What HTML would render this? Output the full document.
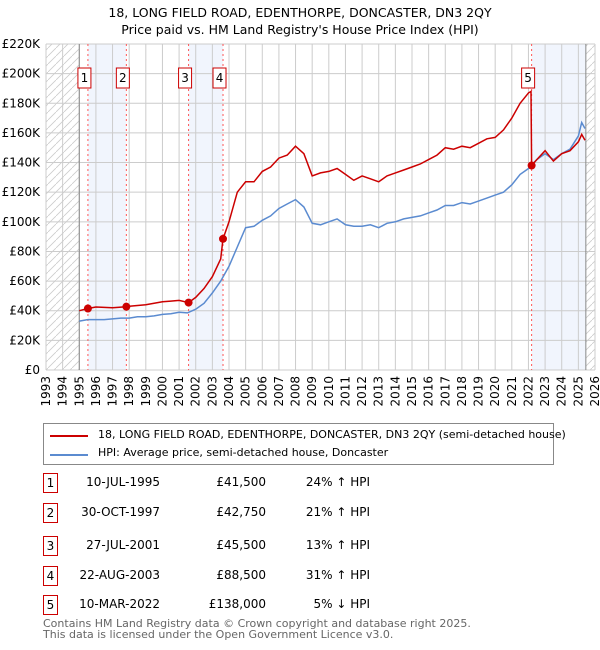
<!DOCTYPE html>
<html><head><meta charset="utf-8"><style>
body{margin:0;background:#fff;font-family:"DejaVu Sans","Liberation Sans",sans-serif;}
#wrap{position:relative;width:600px;height:650px;overflow:hidden;}
.t{position:absolute;font-size:12px;color:#000;white-space:nowrap;}
.box{position:absolute;border:1px solid #c00;width:13px;height:18px;font-size:12px;text-align:center;line-height:18px;}
</style></head><body>
<div id="wrap">
<svg id="chart" width="600" height="420" style="position:absolute;left:0;top:0"></svg>
<div class="t" style="left:0;width:600px;text-align:center;top:4px;line-height:17px;font-size:12.5px">18, LONG FIELD ROAD, EDENTHORPE, DONCASTER, DN3 2QY<br>Price paid vs. HM Land Registry's House Price Index (HPI)</div>
<div style="position:absolute;left:43px;top:423px;width:509px;height:40px;border:1px solid #888;">
 <div><div style="position:absolute;left:6px;top:11px;width:38px;height:2px;background:#c00"></div><div class="t" style="left:54px;top:4px;font-size:11px">18, LONG FIELD ROAD, EDENTHORPE, DONCASTER, DN3 2QY (semi-detached house)</div></div>
 <div><div style="position:absolute;left:6px;top:30px;width:38px;height:2px;background:#5b8bd0"></div><div class="t" style="left:54px;top:22px;font-size:11px">HPI: Average price, semi-detached house, Doncaster</div></div>
</div>
<div id="tbl"></div>
<div class="t" style="left:43px;top:618px;color:#666;font-size:11px;line-height:11px">Contains HM Land Registry data © Crown copyright and database right 2025.<br>This data is licensed under the Open Government Licence v3.0.</div>
</div>
<script>
const hpiYears=[1995,1995.5,1996,1996.5,1997,1997.5,1998,1998.5,1999,1999.5,2000,2000.5,2001,2001.5,2002,2002.5,2003,2003.5,2004,2004.5,2005,2005.5,2006,2006.5,2007,2007.5,2008,2008.5,2009,2009.5,2010,2010.5,2011,2011.5,2012,2012.5,2013,2013.5,2014,2014.5,2015,2015.5,2016,2016.5,2017,2017.5,2018,2018.5,2019,2019.5,2020,2020.5,2021,2021.5,2022,2022.5,2023,2023.5,2024,2024.5,2025,2025.2,2025.4];
const hpiValues=[33,34,34,34,34.5,35,35,36,36,36.5,37.5,38,39,38.5,41,45,52,60,70,83,96,97,101,104,109,112,115,110,99,98,100,102,98,97,97,98,96,99,100,102,103,104,106,108,111,111,113,112,114,116,118,120,125,132,136,142,146,142,146,149,158,167,163];
const propYears=[1995,1995.52,1996,1997,1997.83,1998,1999,2000,2000.5,2001,2001.57,2002,2002.5,2003,2003.5,2003.64,2004,2004.5,2005,2005.5,2006,2006.5,2007,2007.5,2008,2008.5,2009,2009.5,2010,2010.5,2011,2011.5,2012,2012.5,2013,2013.5,2014,2014.5,2015,2015.5,2016,2016.5,2017,2017.5,2018,2018.5,2019,2019.5,2020,2020.5,2021,2021.5,2022,2022.15,2022.19,2022.5,2023,2023.5,2024,2024.5,2025,2025.2,2025.4];
const propValues=[40,41.5,42.5,42,42.75,43,44,46,46.5,47,45.5,49,55,63,75,88.5,100,120,127,127,134,137,143,145,151,146,131,133,134,136,132,128,131,129,127,131,133,135,137,139,142,145,150,149,151,150,153,156,157,162,170,180,187,188,138,142,148,141,146,148,154,159,155];
const saleLabels=["1","2","3","4","5"];
const saleYears=[1995.52,1997.83,2001.57,2003.64,2022.19];
const salePrices=[41.5,42.75,45.5,88.5,138];
const saleDates=["10-JUL-1995","30-OCT-1997","27-JUL-2001","22-AUG-2003","10-MAR-2022"];
const salePriceText=["£41,500","£42,750","£45,500","£88,500","£138,000"];
const saleHpiText=["24% ↑ HPI","21% ↑ HPI","13% ↑ HPI","31% ↑ HPI","5% ↓ HPI"];
const yTicks=[0,20,40,60,80,100,120,140,160,180,200,220];
const xTicks=[1993,1994,1995,1996,1997,1998,1999,2000,2001,2002,2003,2004,2005,2006,2007,2008,2009,2010,2011,2012,2013,2014,2015,2016,2017,2018,2019,2020,2021,2022,2023,2024,2025,2026];
const X0=46,X1=595,Y0=370,Y1=44;
const xs=y=>X0+(y-1993)/(2026-1993)*(X1-X0);
const ys=v=>Y0-v/220*(Y0-Y1);
const svg=document.getElementById('chart');const NS='http://www.w3.org/2000/svg';
function mk(tag,attrs,parent){const e=document.createElementNS(NS,tag);for(const k in attrs)e.setAttribute(k,attrs[k]);(parent||svg).appendChild(e);return e;}
const defs=mk('defs',{});
const pat=mk('pattern',{id:'hatch',width:8,height:8,patternUnits:'userSpaceOnUse'},defs);
mk('path',{d:'M0,8 L8,0',stroke:'#ccc','stroke-width':0.8},pat);
let e;
e=mk('rect',{x:X0,y:Y1,width:xs(1995)-X0,height:Y0-Y1,fill:'url(#hatch)'});


e=mk('rect',{x:xs(2025.45),y:Y1,width:X1-xs(2025.45),height:Y0-Y1,fill:'url(#hatch)'});


const shadePairs=[[0,1],[2,3]];
shadePairs.forEach(p=>{e=mk('rect',{x:xs(saleYears[p[0]]),y:Y1,width:xs(saleYears[p[1]])-xs(saleYears[p[0]]),height:Y0-Y1,fill:'#eef3fc',opacity:0.8});

});
e=mk('rect',{x:xs(saleYears[4]),y:Y1,width:xs(2025.45)-xs(saleYears[4]),height:Y0-Y1,fill:'#eef3fc',opacity:0.8});


yTicks.forEach(v=>{mk('line',{x1:X0,x2:X1,y1:ys(v),y2:ys(v),stroke:'#ccc'});
e=mk('text',{x:X0-6,y:ys(v)+4,'text-anchor':'end','font-size':12,'font-family':'DejaVu Sans, sans-serif'});e.textContent='£'+(v?v+'K':'0');

});
xTicks.forEach(y=>{mk('line',{x1:xs(y),x2:xs(y),y1:Y1,y2:Y0,stroke:'#ccc'});
e=mk('text',{transform:`translate(${xs(y)+4},${Y0+6}) rotate(-90)`,'text-anchor':'end','font-size':12,'font-family':'DejaVu Sans, sans-serif'});e.textContent=y;

});
mk('line',{x1:xs(1995),x2:xs(1995),y1:Y1,y2:Y0,stroke:'#888'});
mk('line',{x1:xs(2025.45),x2:xs(2025.45),y1:Y1,y2:Y0,stroke:'#888'});
saleYears.forEach((y,i)=>{mk('line',{x1:xs(y),x2:xs(y),y1:Y1,y2:Y0,stroke:'#f55','stroke-dasharray':'2,3'});});
const path=(xa,va)=>xa.map((y,i)=>(i?'L':'M')+xs(y).toFixed(1)+','+ys(va[i]).toFixed(1)).join(' ');
e=mk('path',{d:path(hpiYears,hpiValues),fill:'none',stroke:'#5b8bd0','stroke-width':1.5});


e=mk('path',{d:path(propYears,propValues),fill:'none',stroke:'#c00','stroke-width':1.5});


saleYears.forEach((y,i)=>{
e=mk('circle',{cx:xs(y),cy:ys(salePrices[i]),r:4,fill:'#c00'});


const lx=xs(y)-10;
const g=mk('g',{});


mk('rect',{x:lx,y:68,width:13,height:20,fill:'#fff',stroke:'#c00'},g);
const t=mk('text',{x:lx+6.5,y:82,'text-anchor':'middle','font-size':12,'font-family':'DejaVu Sans, sans-serif'},g);t.textContent=saleLabels[i];});
const tbl=document.getElementById('tbl');
const rowY=[473,503,536,566,595];
saleLabels.forEach((l,i)=>{
const r=document.createElement('div');


r.innerHTML=`<div class="box" style="left:43px;top:${rowY[i]}px">${l}</div><div class="t" style="left:60px;width:100px;text-align:right;top:${rowY[i]+2}px">${saleDates[i]}</div><div class="t" style="left:170px;width:96px;text-align:right;top:${rowY[i]+2}px">${salePriceText[i]}</div><div class="t" style="left:280px;width:90px;text-align:right;top:${rowY[i]+2}px">${saleHpiText[i]}</div>`;
tbl.appendChild(r);});
</script>
</body></html>
